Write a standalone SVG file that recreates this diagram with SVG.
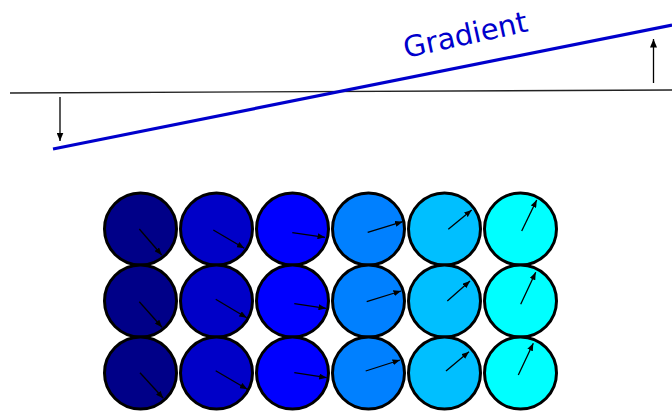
<svg xmlns="http://www.w3.org/2000/svg" width="672" height="411" viewBox="0 0 672 411">
<defs>
<marker id="ah" markerUnits="userSpaceOnUse" markerWidth="9" markerHeight="7" refX="8.5" refY="3.5" orient="auto">
<path d="M0,0 L8.5,3.5 L0,7 z" fill="#000"/>
</marker>
<marker id="ahs" markerUnits="userSpaceOnUse" markerWidth="8" markerHeight="6" refX="7.5" refY="3" orient="auto">
<path d="M0,0 L7.5,3 L0,6 z" fill="#000"/>
</marker>
</defs>
<style>
.c{stroke:#000;stroke-width:3}
.c1{fill:#000088}.c2{fill:#0000c8}.c3{fill:#0000ff}.c4{fill:#0080ff}.c5{fill:#00bfff}.c6{fill:#00ffff}
.a{stroke:#000;stroke-width:1.3;fill:none;marker-end:url(#ahs)}
.big{stroke:#000;stroke-width:1.3;fill:none;marker-end:url(#ah)}
</style>
<rect width="672" height="411" fill="#fff"/>
<g id="baseline"><line x1="10" y1="93" x2="672" y2="90" stroke="#222" stroke-width="1.3"/></g>
<g id="gradient-line"><line x1="53" y1="149" x2="672" y2="25" stroke="#0000cc" stroke-width="3.2"/></g>
<g id="gradient-label"><text x="467.5" y="44.5" transform="rotate(-12.3 467.5 44.5)" text-anchor="middle" font-family="DejaVu Sans, sans-serif" font-size="29" fill="#0000cc">Gradient</text></g>
<g id="cells">
<g id="r1c1"><circle class="c c1" cx="140.5" cy="229" r="36"/></g>
<g id="r1c2"><circle class="c c2" cx="216.5" cy="229" r="36"/></g>
<g id="r1c3"><circle class="c c3" cx="292.5" cy="229" r="36"/></g>
<g id="r1c4"><circle class="c c4" cx="368.5" cy="229" r="36"/></g>
<g id="r1c5"><circle class="c c5" cx="444.5" cy="229" r="36"/></g>
<g id="r1c6"><circle class="c c6" cx="520.5" cy="229" r="36"/></g>
<g id="r2c1"><circle class="c c1" cx="140.5" cy="301" r="36"/></g>
<g id="r2c2"><circle class="c c2" cx="216.5" cy="301" r="36"/></g>
<g id="r2c3"><circle class="c c3" cx="292.5" cy="301" r="36"/></g>
<g id="r2c4"><circle class="c c4" cx="368.5" cy="301" r="36"/></g>
<g id="r2c5"><circle class="c c5" cx="444.5" cy="301" r="36"/></g>
<g id="r2c6"><circle class="c c6" cx="520.5" cy="301" r="36"/></g>
<g id="r3c1"><circle class="c c1" cx="140.5" cy="373" r="36"/></g>
<g id="r3c2"><circle class="c c2" cx="216.5" cy="373" r="36"/></g>
<g id="r3c3"><circle class="c c3" cx="292.5" cy="373" r="36"/></g>
<g id="r3c4"><circle class="c c4" cx="368.5" cy="373" r="36"/></g>
<g id="r3c5"><circle class="c c5" cx="444.5" cy="373" r="36"/></g>
<g id="r3c6"><circle class="c c6" cx="520.5" cy="373" r="36"/></g>
</g>
<g id="connectors">
<line class="big" x1="60" y1="97" x2="60" y2="141"/>
<line class="big" x1="653.5" y1="83" x2="653.5" y2="39"/>
<line class="a" x1="139.3" y1="229" x2="161.7" y2="255"/>
<line class="a" x1="213.3" y1="230" x2="244.3" y2="248.3"/>
<line class="a" x1="292.3" y1="232.7" x2="325" y2="237.3"/>
<line class="a" x1="367.7" y1="232.3" x2="402.7" y2="221.7"/>
<line class="a" x1="448.3" y1="229.3" x2="471.7" y2="210"/>
<line class="a" x1="521.7" y1="231" x2="536.7" y2="200"/>
<line class="a" x1="139.3" y1="301.7" x2="162" y2="327.3"/>
<line class="a" x1="215.7" y1="299.3" x2="246.7" y2="317.7"/>
<line class="a" x1="294.3" y1="303.7" x2="326" y2="308.3"/>
<line class="a" x1="366.7" y1="301.7" x2="401" y2="291"/>
<line class="a" x1="447.3" y1="301" x2="470" y2="281"/>
<line class="a" x1="520.7" y1="304.3" x2="535.7" y2="272.3"/>
<line class="a" x1="140" y1="372.7" x2="163.3" y2="398.3"/>
<line class="a" x1="215.7" y1="370.7" x2="247.3" y2="389.3"/>
<line class="a" x1="294.3" y1="372.7" x2="326.7" y2="377.7"/>
<line class="a" x1="365.7" y1="371" x2="400" y2="360"/>
<line class="a" x1="446" y1="371" x2="469" y2="351.7"/>
<line class="a" x1="518.3" y1="375" x2="533.3" y2="343.3"/>
</g>
</svg>
